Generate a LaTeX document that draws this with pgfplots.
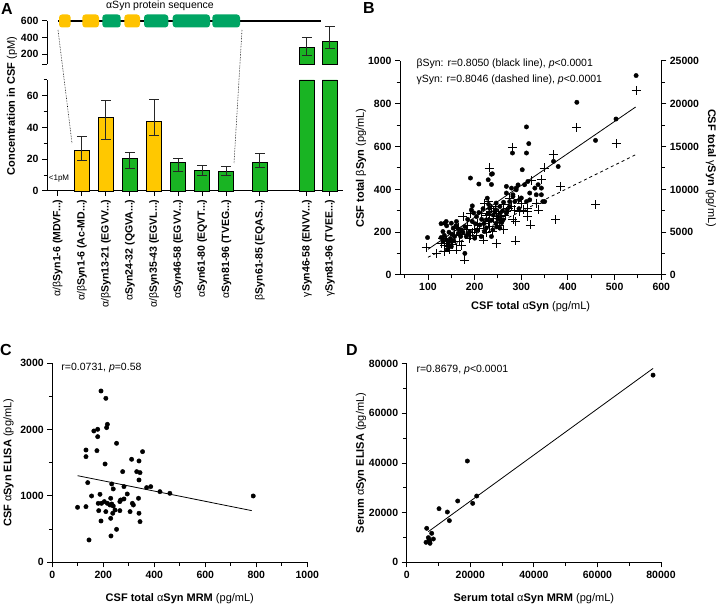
\documentclass[border=0pt]{standalone}
\usepackage{pgfplots}
\pgfplotsset{compat=1.18}
\usepackage{fontspec}
\setmainfont{Liberation Sans}
\definecolor{baryel}{RGB}{255,200,0}
\definecolor{bargrn}{RGB}{25,180,35}
\definecolor{seqyel}{RGB}{255,195,0}
\definecolor{seqgrn}{RGB}{0,165,100}
\newcommand{\dd}{.{}.{}.}
\pgfplotsset{
  every axis/.append style={
    scale only axis, anchor=south west,
    axis line style={line width=1pt},
    tick style={line width=1pt, black},
    major tick length=5pt, minor tick length=3.5pt,
    tick align=outside,
    ticklabel style={font=\fontsize{10.5}{12}\selectfont\bfseries},
    /pgf/number format/assume math mode=true,
    /pgf/number format/1000 sep={},
    scaled x ticks=false, scaled y ticks=false,
    label style={font=\fontsize{11}{13}\selectfont\bfseries},
  },
  ebar/.style={forget plot, draw=none, mark=none, error bars/.cd, y dir=both, y explicit,
    error bar style={draw=black!85, solid, line width=1pt},
    error mark options={rotate=90, mark size=5pt, line width=1pt, draw=black!85}},
}
\begin{document}
\begin{tikzpicture}
\path[use as bounding box] (0,0) rectangle (720pt,603pt);
% ---------------- Panel A ----------------
\node[font=\fontsize{16}{18}\selectfont\bfseries] at (7pt,594pt) {A};
\node[rotate=90, font=\fontsize{11}{13}\selectfont\bfseries] at (12pt,497pt) {Concentration in CSF {\mdseries (pM)}};
% sequence schematic
\node[font=\fontsize{10.5}{12}\selectfont] at (160pt,597pt) {αSyn protein sequence};
\draw[line width=1.3pt] (58pt,582pt) -- (321pt,582pt);
\fill[seqyel, rounded corners=3pt] (59pt,575.5pt) rectangle (70.7pt,588.5pt);
\fill[seqyel, rounded corners=3pt] (82.3pt,575.5pt) rectangle (99pt,588.5pt);
\fill[seqgrn, rounded corners=3pt] (102.3pt,575.5pt) rectangle (120.7pt,588.5pt);
\fill[seqyel, rounded corners=3pt] (124.3pt,575.5pt) rectangle (140pt,588.5pt);
\fill[seqgrn, rounded corners=3pt] (144pt,575.5pt) rectangle (168.3pt,588.5pt);
\fill[seqgrn, rounded corners=3pt] (172.7pt,575.5pt) rectangle (210pt,588.5pt);
\fill[seqgrn, rounded corners=3pt] (212.3pt,575.5pt) rectangle (240pt,588.5pt);
\draw[densely dotted, line width=0.6pt] (58pt,573pt) -- (72pt,460pt);
\draw[densely dotted, line width=0.6pt] (242pt,573pt) -- (234pt,440pt);
\node[font=\fontsize{8}{9}\selectfont] at (59pt,424pt) {<1pM};

\begin{axis}[at={(47pt,538.7pt)}, width=296pt, height=43.3pt,
  xmin=-0.444, xmax=11.84, ymin=80, ymax=600,
  axis x line=none, axis y line*=left,
  ytick={200,400,600}, extra y ticks={80}, extra y tick labels={},
  clip=false]
\addplot[fill=bargrn, draw=black, line width=0.8pt] coordinates {(10.03,80) (10.03,280) (10.65,280) (10.65,80)} -- cycle;
\addplot[fill=bargrn, draw=black, line width=0.8pt] coordinates {(10.99,80) (10.99,360) (11.61,360) (11.61,80)} -- cycle;
\addplot[ebar] coordinates {(10.34,280) += (0,120) -= (0,100) (11.3,360) += (0,172) -= (0,87)};
\end{axis}

\begin{axis}[at={(47pt,412pt)}, width=296pt, height=111pt,
  xmin=-0.444, xmax=11.84, ymin=0, ymax=70,
  axis x line*=bottom, axis y line*=left,
  ytick={0,20,40,60}, minor ytick={10,30,50,70},
  xtick={0,1,2,3,4,5,6,7,8.39,10.34,11.3},
  xticklabels={{{\mdseries α/β}Syn1-6 (MDVF\dd)},{{\mdseries α/β}Syn1-6 (Ac-MD\dd)},{{\mdseries α/β}Syn13-21 (EGVV\dd)},{{\mdseries α}Syn24-32 (QGVA\dd)},{{\mdseries α/β}Syn35-43 (EGVL\dd)},{{\mdseries α}Syn46-58 (EGVV\dd)},{{\mdseries α}Syn61-80 (EQVT\dd)},{{\mdseries α}Syn81-96 (TVEG\dd)},{{\mdseries β}Syn61-85 (EQAS\dd)},{{\mdseries γ}Syn46-58 (ENVV\dd)},{{\mdseries γ}Syn81-96 (TVEE\dd)}},
  xticklabel style={rotate=90, anchor=east, font=\fontsize{10.5}{12}\selectfont\bfseries},
  clip=false]
\addplot[ybar, bar width=15pt, bar shift=0pt, fill=baryel, draw=black, line width=0.8pt]
  coordinates {(1,25.5) (2,46.5) (4,43.7)};
\addplot[ybar, bar width=15pt, bar shift=0pt, fill=bargrn, draw=black, line width=0.8pt]
  coordinates {(3,20.6) (5,17.9) (6,12.8) (7,12.2) (8.39,17.9) (10.34,70) (11.3,70)};
\addplot[ebar]
  coordinates {(1,25.5) += (0,8.8) -= (0,6.5)
               (2,46.5) += (0,10.7) -= (0,13.9)
               (3,20.6) += (0,3.8) -= (0,6.7)
               (4,43.7) += (0,14.2) -= (0,9)
               (5,17.9) += (0,2.9) -= (0,5.9)
               (6,12.8) += (0,3) -= (0,3.1)
               (7,12.2) += (0,3.1) -= (0,2.7)
               (8.39,17.9) += (0,5.6) -= (0,2.8)};
\end{axis}

% ---------------- Panel B ----------------
\node[font=\fontsize{16}{18}\selectfont\bfseries] at (369pt,595pt) {B};
\begin{axis}[at={(400pt,328pt)}, width=261.3pt, height=214pt,
  xmin=40, xmax=600, ymin=0, ymax=1000,
  axis x line*=bottom, axis y line*=left,
  xtick={100,200,...,600}, minor xtick={50,150,...,550},
  ytick={0,200,...,1000}, minor ytick={100,300,...,900},
  xlabel={CSF total {\mdseries α}Syn {\mdseries (pg/mL)}},
  xlabel style={yshift=-4pt},
  ylabel={CSF total {\mdseries β}Syn {\mdseries (pg/mL)}},
  ylabel style={yshift=-5pt},
  clip=false]
\addplot[only marks, mark=*, mark size=2.2pt, black] coordinates {
(99,175) (132,203) (132,156) (136,242) (139,250) (139,164) (143,140) (146,156) (150,133) (150,242) (154,219) (157,180) (161,250) (140,230) (135,185) (145,200) (128,240) (142,120) (155,160) (165,215) (171,211) (179,226) (179,101) (182,180) (189,203) (193,304) (195,323) (191,453) (200,172) (202,239) (204,273) (209,292) (209,425) (211,234) (214,180) (221,203) (225,258) (227,359) (229,445) (232,312) (236,471) (236,423) (239,211) (236,180) (243,297) (246,336) (246,242) (250,273) (254,320) (254,219) (261,258) (268,289) (268,414) (268,383) (275,343) (275,320) (279,406) (282,367) (282,375) (286,343) (289,398) (289,406) (293,421) (296,351) (302,492) (307,422) (311,343) (314,437) (318,383) (318,351) (329,406) (332,375) (336,422) (343,406) (343,375) (346,343) (350,343) (281,570) (311,570) (316,614) (311,692) (238,473) (369,531) (379,507) (419,807) (459,629) (503,729) (546,932) (185,190) (195,250) (205,210) (215,260) (220,240) (230,290) (240,280) (245,305) (250,260) (255,290) (260,300) (225,220) (170,180) (175,200) (160,230) (165,195) (148,170) (152,190) (185,260) (198,290) (218,310) (230,330) (262,340) (270,305) (295,310) (300,360) (258,245) (235,255) (247,225) (128,175)};
\addplot[black, line width=0.8pt] coordinates {(100,120) (545,785)};
\node[anchor=west, font=\fontsize{10.5}{12}\selectfont] at (rel axis cs:0.05,0.986) {βSyn: r=0.8050 (black line), \textit{p}<0.0001};
\node[anchor=west, font=\fontsize{10.5}{12}\selectfont] at (rel axis cs:0.05,0.911) {γSyn: r=0.8046 (dashed line), \textit{p}<0.0001};
\end{axis}
\begin{axis}[at={(400pt,328pt)}, width=261.3pt, height=214pt,
  xmin=40, xmax=600, ymin=0, ymax=25000,
  axis x line=none, axis y line*=right,
  ytick={0,5000,...,25000}, minor ytick={2500,7500,...,22500},
  ylabel={CSF total {\mdseries γ}Syn {\mdseries (pg/mL)}},
  ylabel style={rotate=180},
  clip=false]
\addplot[only marks, mark=+, mark size=4.5pt, black, line width=0.8pt] coordinates {
(96,3220) (118,2530) (129,3700) (132,4300) (136,3500) (143,3325) (146,2925) (157,4675) (161,2925) (171,3500) (175,6825) (179,1760) (182,5275) (191,7225) (200,5275) (204,4675) (214,7225) (218,4100) (218,6050) (221,8400) (229,8575) (229,6250) (232,5650) (232,7025) (239,5075) (246,3700) (246,6825) (254,5850) (257,6450) (261,5275) (268,7425) (279,8000) (286,7600) (293,8775) (281,14950) (231,12500) (368,14050) (349,12500) (321,11050) (343,11130) (384,10350) (459,8200) (374,6440) (319,5850) (287,3980) (282,6440) (288,6245) (314,7810) (314,7425) (314,6825) (336,7600) (304,7600) (300,8400) (296,7425) (332,8400) (419,17250) (503,15350) (546,21580) (140,4000) (150,3800) (165,5500) (170,4800) (185,5800) (190,4600) (195,5000) (205,6000) (210,5500) (225,7000) (235,7800) (240,6600) (245,8000) (250,7200) (255,6800) (262,8200) (265,7000) (272,7800) (275,9000) (240,7400) (225,5000) (135,2700) (152,3600) (168,3900) (188,4300)};
\addplot[black, dashed, line width=0.8pt] coordinates {(100,2070) (545,14050)};
\end{axis}

% ---------------- Panel C ----------------
\node[font=\fontsize{16}{18}\selectfont\bfseries] at (6pt,253pt) {C};
\begin{axis}[at={(52.3pt,40.7pt)}, width=255pt, height=199pt,
  xmin=0, xmax=1000, ymin=0, ymax=3000,
  axis x line*=bottom, axis y line*=left,
  xtick={0,200,...,1000}, minor xtick={100,300,...,900},
  ytick={0,1000,2000,3000}, minor ytick={500,1500,2500},
  xlabel={CSF total {\mdseries α}Syn MRM {\mdseries (pg/mL)}},
  xlabel style={yshift=-8pt},
  ylabel={CSF {\mdseries α}Syn ELISA {\mdseries (pg/mL)}},
  clip=false]
\addplot[only marks, mark=*, mark size=2.2pt, black] coordinates {
(191,2583) (210,2472) (163,1980) (178,2005) (178,1894) (216,2080) (213,2030) (252,1794) (132,1693) (132,1593) (175,1683) (207,1482) (311,1553) (354,1668) (340,1528) (276,1367) (331,1367) (344,1352) (340,1241) (139,1201) (233,1181) (239,1106) (281,1141) (370,1126) (386,1141) (422,1065) (461,1040) (788,1000) (154,1000) (187,1025) (99,829) (132,839) (182,779) (193,889) (204,915) (210,764) (233,879) (229,965) (239,849) (246,789) (268,940) (281,955) (294,1030) (265,779) (305,764) (314,889) (318,864) (338,965) (340,739) (344,613) (191,623) (229,663) (237,739) (226,864) (252,497) (230,397) (144,337) (180,889) (216,889) (265,915)};
\addplot[black, line width=0.8pt] coordinates {(99,1306) (782,779)};
\node[anchor=west, font=\fontsize{10.5}{12}\selectfont] at (rel axis cs:0.022,0.976) {r=0.0731, \textit{p}=0.58};
\end{axis}

% ---------------- Panel D ----------------
\node[font=\fontsize{16}{18}\selectfont\bfseries] at (352pt,253pt) {D};
\begin{axis}[at={(406.7pt,40.7pt)}, width=254.3pt, height=198.6pt,
  xmin=0, xmax=80000, ymin=0, ymax=80000,
  axis x line*=bottom, axis y line*=left,
  xtick={0,20000,...,80000}, minor xtick={10000,30000,...,70000},
  ytick={0,20000,...,80000}, minor ytick={10000,30000,...,70000},
  xlabel={Serum total {\mdseries α}Syn MRM {\mdseries (pg/mL)}},
  xlabel style={yshift=-8pt},
  ylabel={Serum {\mdseries α}Syn ELISA {\mdseries (pg/mL)}},
  ylabel style={yshift=-4pt},
  clip=false]
\addplot[only marks, mark=*, mark size=2.2pt, black] coordinates {
(19083,40800) (16042,24700) (22018,26700) (20760,23750) (10170,21600) (12790,20260) (13420,16780) (6290,13690) (7860,11680) (8390,9390) (6815,9930) (7025,8990) (6080,8050) (7340,7650) (7200,8500) (77500,75400)};
\addplot[black, line width=0.8pt] coordinates {(6800,12350) (77500,78100)};
\node[anchor=west, font=\fontsize{10.5}{12}\selectfont] at (rel axis cs:0.025,0.967) {r=0.8679, \textit{p}<0.0001};
\end{axis}
\end{tikzpicture}
\end{document}
